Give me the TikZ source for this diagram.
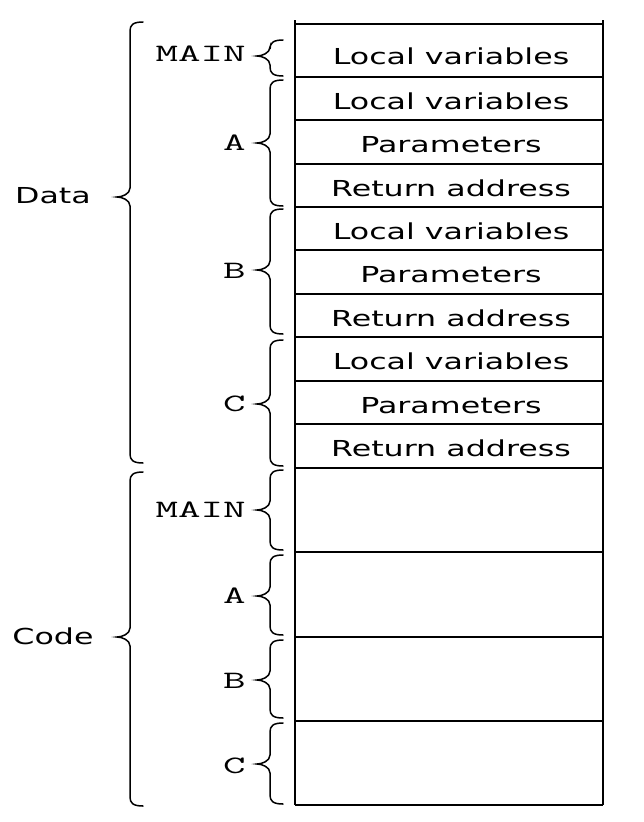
\documentclass[tikz,border=0pt]{standalone}
\usepackage{fontspec}
\setmainfont{DejaVu Sans}
\newcommand\cbrace[4]{% x, top, tip, bottom
  \draw[bracestyle] (#1,#2) .. controls ({#1-10},#2) and ({#1-13},{#2+3}) .. ({#1-13},{#2+9})
    -- ({#1-13},{#3-9}) .. controls ({#1-13},{#3-3}) and ({#1-21},#3) .. ({#1-26},#3)
    .. controls ({#1-21},#3) and ({#1-13},{#3+3}) .. ({#1-13},{#3+9})
    -- ({#1-13},{#4-9}) .. controls ({#1-13},{#4-3}) and ({#1-10},#4) .. (#1,#4);}
\begin{document}
\begin{tikzpicture}[x=1pt,y=-1pt,
  bracestyle/.style={line width=1.5pt,line cap=round},
  cell/.style={font=\fontsize{22}{24}\selectfont,xscale=1.44,inner sep=0pt},
  seglab/.style={font=\ttfamily\fontsize{25}{27}\selectfont,xscale=1.75,anchor=east,inner sep=0pt},
  biglab/.style={font=\fontsize{22}{24}\selectfont,xscale=1.44,inner sep=0pt},
  hline/.style={line width=1.4pt},
  vline/.style={line width=2pt}]
\useasboundingbox (0,0) rectangle (644,822);
% frame
\draw[vline] (295,20) -- (295,805);
\draw[vline] (603,20) -- (603,805);
\foreach \y in {24,77,120,164,207,250,294,337,381,424,468,552,637,721,805}
  \draw[hline] (295,\y) -- (603,\y);
% cell texts
\node[cell] (dm) at (451,56) {Local variables};
\node[cell] (al) at (451,101.5) {Local variables};
\node[cell] (ap) at (451,144.5) {Parameters};
\node[cell] (ar) at (451,188.5) {Return address};
\node[cell] (bl) at (451,231.5) {Local variables};
\node[cell] (bp) at (451,274.5) {Parameters};
\node[cell] (br) at (451,318.5) {Return address};
\node[cell] (cl) at (451,361.5) {Local variables};
\node[cell] (cp) at (451,405.5) {Parameters};
\node[cell] (cr) at (451,448.5) {Return address};
% small braces
\cbrace{283}{40}{56}{76}
\cbrace{283}{80}{143}{206}
\cbrace{283}{209}{270}{334}
\cbrace{283}{340}{404}{466}
\cbrace{283}{470}{510}{550}
\cbrace{283}{555}{596}{635}
\cbrace{283}{640}{680}{718}
\cbrace{283}{723}{764}{804}
% big braces
\cbrace{143}{22}{197}{463}
\cbrace{143}{472}{637}{806}
% segment labels
\node[seglab] (lm1) at (246,54) {MAIN};
\node[seglab] (la1) at (246,143) {A};
\node[seglab] (lb1) at (246,271) {B};
\node[seglab] (lc1) at (246,404) {C};
\node[seglab] (lm2) at (246,510) {MAIN};
\node[seglab] (la2) at (246,596) {A};
\node[seglab] (lb2) at (246,681) {B};
\node[seglab] (lc2) at (246,766) {C};
\node[biglab] (data) at (53,196) {Data};
\node[biglab] (code) at (53,636) {Code};
\end{tikzpicture}
\end{document}
